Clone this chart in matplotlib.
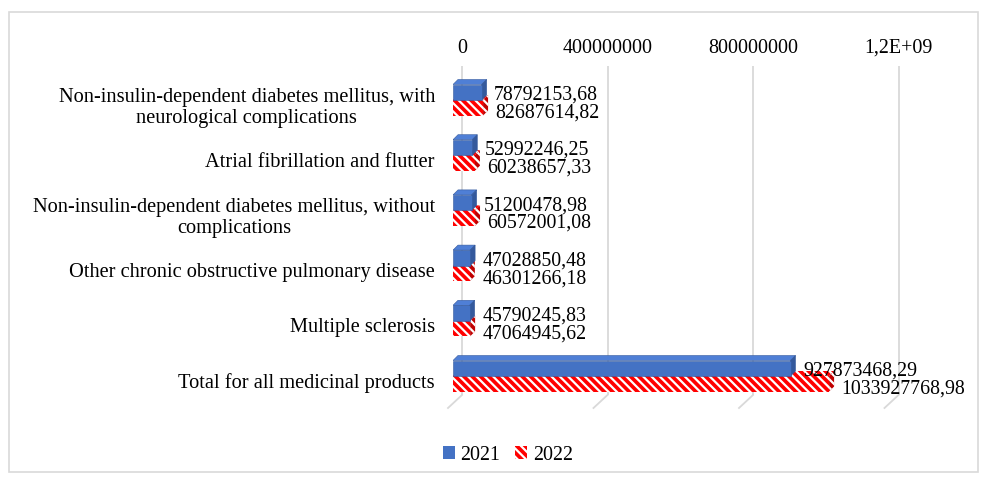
import matplotlib
matplotlib.use('Agg')
import matplotlib.pyplot as plt
from matplotlib.patches import Polygon, Patch, Rectangle
import numpy as np

plt.rcParams['font.family'] = ['Liberation Serif', 'DejaVu Serif']
plt.rcParams['hatch.linewidth'] = 1.6

categories = ['Non-insulin-dependent diabetes mellitus, with\nneurological complications',
              'Atrial fibrillation and flutter',
              'Non-insulin-dependent diabetes mellitus, without\ncomplications',
              'Other chronic obstructive pulmonary disease',
              'Multiple sclerosis',
              'Total for all medicinal products']
values_2021 = [78792153.68, 52992246.25, 51200478.98, 47028850.48, 45790245.83, 927873468.29]
values_2022 = [82687614.82, 60238657.33, 60572001.08, 46301266.18, 47064945.62, 1033927768.98]
series_names = ['2021', '2022']
ticks = [0, 400000000, 800000000, 1200000000]
tick_labels = ['0', '400000000', '800000000', '1,2E+09']

blue = '#4472C4'
blue_top = '#4F7FD6'
blue_side = '#34599C'
red = '#FF0000'
red_side = '#C00000'
grid_col = '#D9D9D9'

W, H = 982, 479
fig = plt.figure(figsize=(W / 100, H / 100), dpi=100)

# plot area in pixels (front plane of the 3d bars)
left_px, right_px, top_px, bot_px = 453, 901, 66, 395
ax = fig.add_axes([left_px / W, 1 - bot_px / H, (right_px - left_px) / W, (bot_px - top_px) / H])

xpp = 400000000 / 145.5          # data units per pixel along x
y0_px, ystep_px = 100, 55.2      # first category and spacing in pixels
ypp = 1 / ystep_px
ax.set_xlim(0, (right_px - left_px) * xpp)
ax.set_ylim((bot_px - y0_px) * ypp, (top_px - y0_px) * ypp)

back = 9 * xpp                   # back wall offset of the gridlines
dx, dy = 5 * xpp, -5 * ypp       # bar depth

y = np.arange(len(categories))
h = 15.5 * ypp


def box(x1, yc, side, top, **kw):
    ytop, ybot = yc - h / 2, yc + h / 2
    ax.add_patch(Polygon([(0, ytop), (x1, ytop), (x1 + dx, ytop + dy), (dx, ytop + dy)],
                         closed=True, facecolor=top, **kw))
    ax.add_patch(Polygon([(x1, ytop), (x1 + dx, ytop + dy), (x1 + dx, ybot + dy), (x1, ybot)],
                         closed=True, facecolor=side, **kw))


for i in range(len(categories)):
    box(values_2022[i], y[i] + h / 2, red_side, red, edgecolor='white',
        linewidth=0, hatch='\\\\\\\\', zorder=2)
ax.barh(y + h / 2, values_2022, height=h, color=red, edgecolor='white', linewidth=0,
        hatch='\\\\\\\\', zorder=3)
for i in range(len(categories)):
    box(values_2021[i], y[i] - h / 2, blue_side, blue_top, edgecolor=blue_side,
        linewidth=0.4, zorder=4)
ax.barh(y - h / 2, values_2021, height=h, color=blue, edgecolor=blue_side, linewidth=0.4,
        zorder=5)

# value labels
for i in range(len(categories)):
    for v, yc in ((values_2021[i], y[i] - h / 2 + 0.055), (values_2022[i], y[i] + h / 2 + 0.095)):
        ax.annotate(f'{v:.2f}'.replace('.', ','), (v, yc), xytext=(9, 0),
                    textcoords='offset points', ha='left', va='center',
                    fontsize=14.3, zorder=6, annotation_clip=False)

# gridlines on the back wall with the floor edge
bt = np.array(ticks) + back
ax.set_xticks(bt)
ax.set_xticklabels(tick_labels, fontsize=14.4)
ax.xaxis.tick_top()
ax.tick_params(axis='x', length=0, pad=6)
ax.grid(axis='x', color=grid_col, linewidth=1.3, zorder=0)
ax.set_axisbelow(True)
ylo = ax.get_ylim()[0]
for xb in bt:
    ax.plot([xb, xb - 14 * xpp], [ylo, ylo + 13 * ypp], color=grid_col, linewidth=1.3,
            clip_on=False, zorder=0)

ax.set_yticks(y + 0.08)
ax.set_yticklabels(categories, fontsize=14.7, linespacing=1.13, ha='right',
                   multialignment='center')
ax.tick_params(axis='y', length=0, pad=13)
for s in ax.spines.values():
    s.set_visible(False)

handles = [Patch(facecolor=blue, edgecolor=blue, linewidth=0),
           Patch(facecolor=red, edgecolor='white', linewidth=0, hatch='\\\\\\\\')]
fig.legend(handles, series_names, loc='center', bbox_to_anchor=(508 / W, 1 - 455 / H),
           ncol=2, frameon=False, fontsize=14.4, handlelength=0.6, handleheight=0.6,
           handletextpad=0.3, columnspacing=0.75)

fig.patches.append(Rectangle((9 / W, 1 - 472 / H), 969 / W, 460 / H, transform=fig.transFigure,
                             fill=False, edgecolor=grid_col, linewidth=1.2))

fig.savefig('out.png', dpi=100, facecolor='white')
